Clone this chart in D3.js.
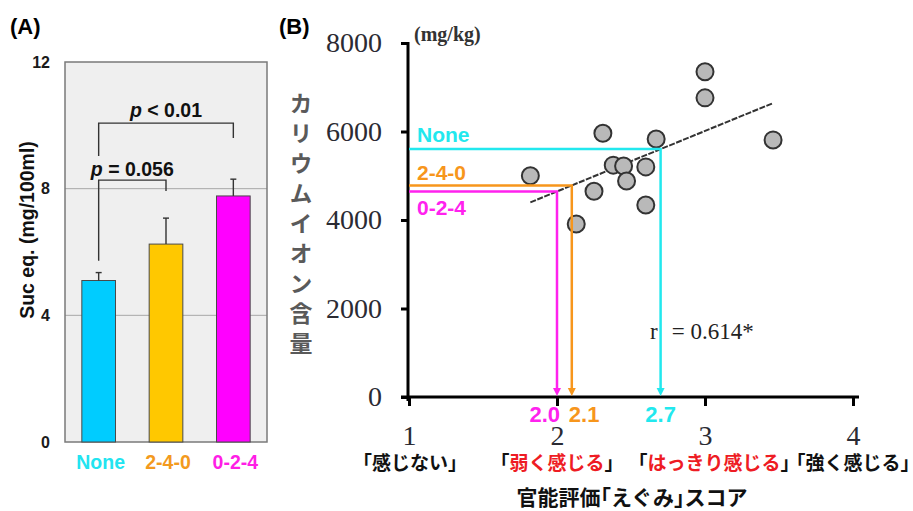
<!DOCTYPE html>
<html>
<head>
<meta charset="utf-8">
<script src="https://cdn.jsdelivr.net/npm/d3@7"></script>
<style>
  body { margin: 0; background: #fff; }
  svg { display: block; }
  .halt { font-feature-settings: "halt"; }
</style>
</head>
<body>
<svg id="chart" width="913" height="511"></svg>
<script>
// ---------- Panel A: sugar content (sucrose equivalents) ----------
const sucCategories = ["None", "2-4-0", "0-2-4"];
const sucMeans = [5.1, 6.25, 7.77];
const sucErrors = [0.25, 0.82, 0.53];
const sucTicks = [0, 4, 8, 12];
const sucComparisons = [
  { from: "None", to: "2-4-0", p: "= 0.056" },
  { from: "None", to: "0-2-4", p: "< 0.01" }
];

// ---------- Panel B: potassium vs. harshness score ----------
const scoreTicks = [1, 2, 3, 4];
const potassiumTicks = [0, 2000, 4000, 6000, 8000];
const sampleScores = [1.82, 2.13, 2.25, 2.31, 2.38, 2.45, 2.47, 2.60, 2.60, 2.67, 3.00, 3.00, 3.46];
const samplePotassium = [5000, 3910, 4650, 5960, 5240, 5220, 4880, 5200, 4340, 5830, 7350, 6760, 5810];
const scoreWords = ["感じない", "弱く感じる", "はっきり感じる", "強く感じる"];
const scoreWordEmphasis = [false, true, true, false];
const treatmentNames = ["None", "2-4-0", "0-2-4"];
const treatmentScores = [2.7, 2.1, 2.0];
const correlationText = ["r", "= 0.614*"];

// ---------- styling ----------
const treatmentColors = { "None": "#00ccff", "2-4-0": "#ffc800", "0-2-4": "#ff00ff" };
const treatmentTextColors = { "None": "#22e4f0", "2-4-0": "#f39a1e", "0-2-4": "#ff1ee6" };
const guideColors = { "None": "#22e8ee", "2-4-0": "#f7961c", "0-2-4": "#ff22ee" };
const wordShift = [1, 0, 9, 0];

const svg = d3.select("#chart");
const sans = "Arial, 'Liberation Sans', Helvetica, sans-serif";
const serif = "'Times New Roman', 'Liberation Serif', serif";
const cjk = "'Noto Sans CJK JP', 'Noto Sans', sans-serif";

// ================= Panel A =================
const A = { left: 65, right: 267, top: 62, bottom: 442 };
const xA = d3.scaleBand().domain(sucCategories).range([A.left, A.right])
  .paddingInner(0.5).paddingOuter(0.25);
const yA = d3.scaleLinear().domain([0, 12]).range([A.bottom, A.top]);

const gA = svg.append("g");
gA.append("text").attr("x", 10).attr("y", 34)
  .attr("font-family", sans).attr("font-weight", "bold").attr("font-size", 22)
  .text("(A)");

gA.append("rect")
  .attr("x", A.left).attr("y", A.top)
  .attr("width", A.right - A.left).attr("height", A.bottom - A.top)
  .attr("fill", "#efefef");

gA.selectAll("line.grid").data(sucTicks.filter(t => t > 0 && t < 12)).join("line")
  .attr("class", "grid")
  .attr("x1", A.left).attr("x2", A.right)
  .attr("y1", d => yA(d)).attr("y2", d => yA(d))
  .attr("stroke", "#a8a8a8").attr("stroke-width", 1);

gA.append("rect")
  .attr("x", A.left).attr("y", A.top)
  .attr("width", A.right - A.left).attr("height", A.bottom - A.top)
  .attr("fill", "none").attr("stroke", "#7a7a7a").attr("stroke-width", 1.5);

gA.selectAll("text.ytick").data(sucTicks).join("text")
  .attr("class", "ytick")
  .attr("x", 50).attr("y", d => yA(d)).attr("dy", "0.35em")
  .attr("text-anchor", "end")
  .attr("font-family", sans).attr("font-weight", "bold").attr("font-size", 16)
  .attr("fill", "#1a1a1a")
  .text(d => d);

gA.append("text")
  .attr("transform", "translate(34,230) rotate(-90)")
  .attr("text-anchor", "middle")
  .attr("font-family", sans).attr("font-weight", "bold").attr("font-size", 19.5)
  .attr("fill", "#111")
  .text("Suc eq. (mg/100ml)");

// bars
gA.selectAll("rect.bar").data(sucCategories).join("rect")
  .attr("class", "bar")
  .attr("x", d => xA(d)).attr("width", xA.bandwidth())
  .attr("y", (d, i) => yA(sucMeans[i]))
  .attr("height", (d, i) => yA(0) - yA(sucMeans[i]))
  .attr("fill", d => treatmentColors[d])
  .attr("stroke", "#4a4a4a").attr("stroke-width", 1);

// error bars (upper)
const errG = gA.selectAll("g.err").data(sucCategories).join("g").attr("class", "err");
errG.append("line")
  .attr("x1", d => xA(d) + xA.bandwidth() / 2).attr("x2", d => xA(d) + xA.bandwidth() / 2)
  .attr("y1", (d, i) => yA(sucMeans[i])).attr("y2", (d, i) => yA(sucMeans[i] + sucErrors[i]))
  .attr("stroke", "#333").attr("stroke-width", 1.4);
errG.append("line")
  .attr("x1", d => xA(d) + xA.bandwidth() / 2 - 3).attr("x2", d => xA(d) + xA.bandwidth() / 2 + 3)
  .attr("y1", (d, i) => yA(sucMeans[i] + sucErrors[i])).attr("y2", (d, i) => yA(sucMeans[i] + sucErrors[i]))
  .attr("stroke", "#333").attr("stroke-width", 1.4);

// significance brackets: bar level, left leg end, right leg end, label baseline
const bracketLevels = [
  { top: 8.27, leftEnd: 5.72, rightEnd: 7.93, labelY: 8.4 },
  { top: 10.07, leftEnd: 9.03, rightEnd: 9.6, labelY: 10.25 }
];
sucComparisons.forEach((c, i) => {
  const L = bracketLevels[i];
  const x1 = xA(c.from) + xA.bandwidth() / 2;
  const x2 = xA(c.to) + xA.bandwidth() / 2;
  gA.append("path")
    .attr("d", `M${x1},${yA(L.leftEnd)}V${yA(L.top)}H${x2}V${yA(L.rightEnd)}`)
    .attr("fill", "none").attr("stroke", "#333").attr("stroke-width", 1.4);
  const t = gA.append("text")
    .attr("x", (x1 + x2) / 2).attr("y", yA(L.labelY))
    .attr("text-anchor", "middle")
    .attr("font-family", sans).attr("font-weight", "bold").attr("font-size", 19.5)
    .attr("fill", "#111");
  t.append("tspan").attr("font-style", "italic").text("p");
  t.append("tspan").text(" " + c.p);
});

// category labels
gA.selectAll("text.cat").data(sucCategories).join("text")
  .attr("class", "cat")
  .attr("x", d => xA(d) + xA.bandwidth() / 2 + 2).attr("y", 469)
  .attr("text-anchor", "middle")
  .attr("font-family", sans).attr("font-weight", "bold").attr("font-size", 19.5)
  .attr("fill", d => treatmentTextColors[d])
  .text(d => d);

// ================= Panel B =================
const xB = d3.scaleLinear().domain([1, 4]).range([409, 853]);
const yB = d3.scaleLinear().domain([0, 8000]).range([397, 43]);
const gB = svg.append("g");

gB.append("text").attr("x", 279).attr("y", 34)
  .attr("font-family", sans).attr("font-weight", "bold").attr("font-size", 22)
  .text("(B)");

// least-squares fit through the samples
const mx = d3.mean(sampleScores), my = d3.mean(samplePotassium);
let sxy = 0, sxx = 0;
sampleScores.forEach((s, i) => { sxy += (s - mx) * (samplePotassium[i] - my); sxx += (s - mx) ** 2; });
const slope = sxy / sxx;
const fit = s => my + slope * (s - mx);

// axes
const yAxisB = d3.axisLeft(yB).tickValues(potassiumTicks).tickFormat(d3.format("d"))
  .tickSize(7).tickSizeOuter(0).tickPadding(19);
const xAxisB = d3.axisBottom(xB).tickValues(scoreTicks).tickFormat(d3.format("d"))
  .tickSize(9).tickSizeOuter(0).tickPadding(19);

const gy = gB.append("g").attr("transform", `translate(${xB(1) - 1},0)`).call(yAxisB);
const gx = gB.append("g").attr("transform", `translate(0,${yB(0)})`).call(xAxisB);
[gy, gx].forEach(g => {
  g.select(".domain").remove();
  g.selectAll(".tick line").attr("stroke", "#000").attr("stroke-width", 3);
  g.selectAll(".tick text")
    .attr("font-family", serif).attr("font-size", 28).attr("fill", "#2b2b33");
});
gB.append("line")
  .attr("x1", xB(1) - 1).attr("x2", xB(1) - 1)
  .attr("y1", yB(8000) - 1).attr("y2", yB(0) + 4)
  .attr("stroke", "#000").attr("stroke-width", 3);
gB.append("line")
  .attr("x1", xB(1) - 8).attr("x2", xB(4) + 6)
  .attr("y1", yB(0)).attr("y2", yB(0))
  .attr("stroke", "#000").attr("stroke-width", 3);

gB.append("text").attr("x", 414).attr("y", 41)
  .attr("font-family", serif).attr("font-weight", "bold").attr("font-size", 20)
  .attr("fill", "#333")
  .text("(mg/kg)");

// vertical y-axis title
gB.append("text")
  .attr("x", 301).attr("y", 92)
  .attr("style", "writing-mode: vertical-rl; text-orientation: upright; letter-spacing: 7px;")
  .attr("font-family", cjk).attr("font-weight", "bold").attr("font-size", 23)
  .attr("fill", "#5a5a5a")
  .text("カリウムイオン含量");

// regression line
const sx = d3.extent(sampleScores);
gB.append("line")
  .attr("x1", xB(sx[0])).attr("y1", yB(fit(sx[0])))
  .attr("x2", xB(sx[1])).attr("y2", yB(fit(sx[1])))
  .attr("stroke", "#333").attr("stroke-width", 2).attr("stroke-dasharray", "6,1.5");

// sample points
gB.selectAll("circle.pt").data(sampleScores).join("circle")
  .attr("class", "pt")
  .attr("cx", d => xB(d)).attr("cy", (d, i) => yB(samplePotassium[i]))
  .attr("r", 8.5)
  .attr("fill", "#b9b9b9").attr("stroke", "#333").attr("stroke-width", 2);

// treatment guides: from the axis to the fitted line, then down to the score
const labelOffset = { "None": -7, "2-4-0": -5, "0-2-4": 24 };
const scoreAnchor = { "None": "middle", "2-4-0": "start", "0-2-4": "end" };
const scoreDx = { "None": 0, "2-4-0": -3, "0-2-4": 3 };
treatmentNames.forEach((name, i) => {
  const s = treatmentScores[i];
  const px = xB(s), py = yB(fit(s));
  const c = guideColors[name];
  gB.append("path")
    .attr("d", `M${xB(1)},${py}H${px}V${yB(0) - 8}`)
    .attr("fill", "none").attr("stroke", c).attr("stroke-width", 2.5);
  gB.append("path")
    .attr("d", `M${px - 4},${yB(0) - 9}L${px + 4},${yB(0) - 9}L${px},${yB(0) - 1}Z`)
    .attr("fill", c);
  gB.append("text")
    .attr("x", 417).attr("y", py + labelOffset[name])
    .attr("font-family", sans).attr("font-weight", "bold").attr("font-size", 21)
    .attr("fill", c)
    .text(name);
  gB.append("text")
    .attr("x", px + scoreDx[name]).attr("y", 422)
    .attr("text-anchor", scoreAnchor[name])
    .attr("font-family", sans).attr("font-weight", "bold").attr("font-size", 22)
    .attr("fill", c)
    .text(d3.format(".1f")(s));
});

// correlation coefficient
const rt = gB.append("text").attr("x", 650).attr("y", 339)
  .attr("font-family", serif).attr("font-size", 23).attr("fill", "#222");
rt.append("tspan").text(correlationText[0]);
rt.append("tspan").attr("dx", 14).text(correlationText[1]);

// score descriptors under the axis
const wordG = gB.selectAll("text.word").data(scoreWords).join("text")
  .attr("class", "word")
  .attr("x", (d, i) => xB(scoreTicks[i]) + wordShift[i])
  .attr("y", 470)
  .attr("text-anchor", "middle")
  .attr("font-family", cjk).attr("font-weight", "bold").attr("font-size", 19)
  .attr("fill", "#111");
wordG.append("tspan").attr("class", "halt").text("「");
wordG.append("tspan").attr("fill", (d, i) => scoreWordEmphasis[i] ? "#ee1c24" : "#111").text(d => d);
wordG.append("tspan").attr("class", "halt").text("」");

const title = gB.append("text")
  .attr("x", 632).attr("y", 505)
  .attr("text-anchor", "middle")
  .attr("font-family", cjk).attr("font-weight", "bold").attr("font-size", 21)
  .attr("fill", "#111");
title.append("tspan").text("官能評価");
title.append("tspan").attr("class", "halt").text("「");
title.append("tspan").text("えぐみ");
title.append("tspan").attr("class", "halt").text("」");
title.append("tspan").text("スコア");
</script>
</body>
</html>
